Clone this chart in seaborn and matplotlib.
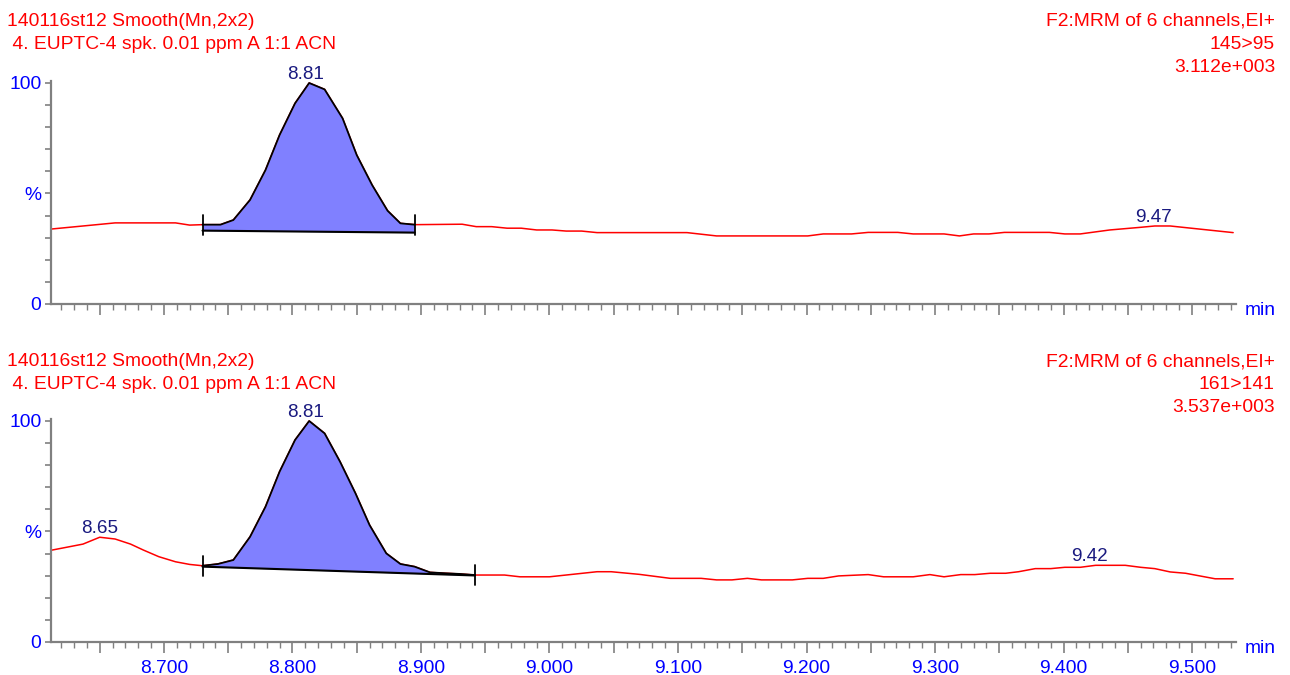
import numpy as np
import pandas as pd
import matplotlib
matplotlib.use("Agg")
import matplotlib.pyplot as plt
import seaborn as sns

# ---------------- data ----------------
# Panel 1: 145>95
t1 = [8.612, 8.662, 8.709, 8.720, 8.730, 8.744, 8.754, 8.767, 8.779, 8.790,
      8.802, 8.813, 8.825, 8.839, 8.850, 8.862, 8.874, 8.884, 8.895, 8.932,
      8.943, 8.955, 8.967, 8.978, 8.990, 9.002, 9.013, 9.025, 9.037, 9.107,
      9.130, 9.201, 9.213, 9.235, 9.248, 9.271, 9.283, 9.307, 9.319, 9.330,
      9.342, 9.354, 9.389, 9.401, 9.413, 9.436, 9.460, 9.471, 9.483, 9.496,
      9.532]
v1 = [33.9, 36.7, 36.7, 35.7, 35.9, 35.9, 38.0, 47.1, 60.6, 76.5,
      90.8, 100.0, 97.1, 84.0, 67.4, 53.8, 42.2, 36.5, 35.9, 36.1,
      35.0, 35.0, 34.3, 34.3, 33.5, 33.5, 33.0, 33.0, 32.3, 32.3,
      30.8, 30.8, 31.7, 31.7, 32.4, 32.4, 31.7, 31.7, 30.8, 31.7,
      31.7, 32.4, 32.4, 31.7, 31.7, 33.5, 34.7, 35.3, 35.3, 34.5,
      32.3]
int1_t = [8.730, 8.895]          # integration start / end
int1_base = [33.2, 32.3]         # baseline values at start / end
labels1 = ["8.81", "9.47"]
labels1_t = [8.81, 9.47]
labels1_y = [100.0, 35.3]

# Panel 2: 161>141
t2 = [8.613, 8.637, 8.650, 8.662, 8.674, 8.684, 8.696, 8.709, 8.720, 8.730,
      8.742, 8.754, 8.767, 8.779, 8.790, 8.802, 8.813, 8.825, 8.837, 8.849,
      8.860, 8.873, 8.884, 8.895, 8.907, 8.919, 8.930, 8.942, 8.965, 8.977,
      9.000, 9.037, 9.048, 9.070, 9.094, 9.118, 9.130, 9.142, 9.154, 9.165,
      9.189, 9.201, 9.213, 9.225, 9.248, 9.260, 9.283, 9.296, 9.307, 9.320,
      9.331, 9.343, 9.355, 9.365, 9.378, 9.390, 9.401, 9.413, 9.425, 9.448,
      9.460, 9.471, 9.483, 9.495, 9.506, 9.518, 9.532]
v2 = [41.6, 44.3, 47.4, 46.6, 44.3, 41.6, 38.6, 36.3, 35.1, 34.5,
      35.3, 37.1, 47.6, 61.2, 77.1, 91.4, 100.0, 94.4, 81.6, 67.3,
      52.9, 40.1, 35.3, 34.1, 31.5, 31.1, 30.8, 30.3, 30.3, 29.5,
      29.5, 31.8, 31.8, 30.6, 28.8, 28.8, 28.1, 28.1, 28.8, 28.1,
      28.1, 28.8, 28.8, 29.9, 30.5, 29.5, 29.5, 30.5, 29.5, 30.5,
      30.5, 31.1, 31.1, 31.8, 33.2, 33.2, 33.8, 33.8, 34.7, 34.7,
      33.8, 33.2, 31.7, 31.1, 29.9, 28.6, 28.6]
int2_t = [8.730, 8.942]
int2_base = [34.1, 30.1]
labels2 = ["8.81", "8.65", "9.42"]
labels2_t = [8.81, 8.65, 9.42]
labels2_y = [100.0, 47.4, 34.7]

header_left = ["140116st12 Smooth(Mn,2x2)", " 4. EUPTC-4 spk. 0.01 ppm A 1:1 ACN"]
header_right1 = ["F2:MRM of 6 channels,EI+", "145>95", "3.112e+003"]
header_right2 = ["F2:MRM of 6 channels,EI+", "161>141", "3.537e+003"]

xticks = [8.700, 8.800, 8.900, 9.000, 9.100, 9.200, 9.300, 9.400, 9.500]
xticklabels = ["8.700", "8.800", "8.900", "9.000", "9.100", "9.200", "9.300", "9.400", "9.500"]

# ---------------- styling ----------------
sns.set_style("white")
plt.rcParams["font.family"] = ["Liberation Sans", "DejaVu Sans"]

W, H = 1290, 675
fig = plt.figure(figsize=(W / 100, H / 100), dpi=100)

RED = "#ff0000"
BLUE = "#0000ff"
NAVY = "#1a1a80"
FILL = "#8080ff"
GRAY = "#808080"
FS = 13.9

XMIN, XMAX = 8.6121, 9.5342
left = 51 / W
width = (1236 - 51) / W


def make_panel(rect, t, v, it, ib, labs, labt, laby, show_xlabels):
    ax = fig.add_axes(rect)
    df = pd.DataFrame({"t": t, "v": v})
    sns.lineplot(data=df, x="t", y="v", ax=ax, color=RED, linewidth=1.1,
                 estimator=None, sort=False)
    ta = np.array(t)
    va = np.array(v)
    mask = (ta >= it[0] - 1e-9) & (ta <= it[1] + 1e-9)
    pt = ta[mask]
    pv = va[mask]
    base = np.interp(pt, it, ib)
    ax.fill_between(pt, base, pv, color=FILL, linewidth=0, zorder=3)
    ax.plot(pt, pv, color="black", linewidth=1.3, zorder=4)
    ax.plot(it, ib, color="black", linewidth=1.5, zorder=4)
    for tt in it:
        yv = np.interp(tt, ta, va)
        ax.plot([tt, tt], [yv - 4.5, yv + 4.5], color="black", linewidth=1.3, zorder=5)
    for lab, lt, ly in zip(labs, labt, laby):
        ax.text(lt, ly + 2.0, lab, ha="center", va="baseline", color=NAVY,
                fontsize=13.6, clip_on=False)

    ax.set_xlim(XMIN, XMAX)
    ax.set_ylim(0, 100.9)
    for s in ["top", "right"]:
        ax.spines[s].set_visible(False)
    for s in ["left", "bottom"]:
        ax.spines[s].set_color(GRAY)
        ax.spines[s].set_linewidth(1.6)
    ax.set_xlabel("")
    ax.set_ylabel("")
    ax.set_yticks(np.arange(0, 101, 10))
    ylabs = [""] * 11
    ylabs[0] = "0"
    ylabs[5] = "%"
    ylabs[10] = "100"
    ax.set_yticklabels(ylabs)
    ax.tick_params(axis="y", direction="out", length=4, width=1.2, color=GRAY,
                   labelcolor=BLUE, labelsize=FS, pad=3, left=True)
    ax.set_xticks(np.round(np.arange(8.65, 9.531, 0.05), 3))
    ax.set_xticks(np.round(np.arange(8.62, 9.531, 0.01), 3), minor=True)
    if show_xlabels:
        ax.set_xticks(xticks + [8.65, 8.75, 8.85, 8.95, 9.05, 9.15, 9.25, 9.35, 9.45])
        ax.set_xticklabels(xticklabels + [""] * 9)
    else:
        ax.set_xticklabels([""] * len(ax.get_xticks()))
    ax.tick_params(axis="x", which="major", direction="out", length=8, width=1.2,
                   color=GRAY, labelcolor=BLUE, labelsize=FS, pad=5, bottom=True)
    ax.tick_params(axis="x", which="minor", direction="out", length=4.5, width=1.0,
                   color=GRAY, bottom=True)
    ax.grid(False)
    return ax


ax1 = make_panel([left, 1 - 304 / H, width, (304 - 81) / H],
                 t1, v1, int1_t, int1_base, labels1, labels1_t, labels1_y, False)
ax2 = make_panel([left, 1 - 642 / H, width, (642 - 419) / H],
                 t2, v2, int2_t, int2_base, labels2, labels2_t, labels2_y, True)

# headers
for base_y, right_lines in [(26, header_right1), (366, header_right2)]:
    for i, line in enumerate(header_left):
        fig.text(7 / W, 1 - (base_y + 23 * i) / H, line, ha="left", va="baseline",
                 color=RED, fontsize=FS)
    for i, line in enumerate(right_lines):
        fig.text(1275 / W, 1 - (base_y + 23 * i) / H, line, ha="right", va="baseline",
                 color=RED, fontsize=FS)

fig.text(1245 / W, 1 - 315 / H, "min", ha="left", va="baseline", color=BLUE, fontsize=FS)
fig.text(1245 / W, 1 - 653 / H, "min", ha="left", va="baseline", color=BLUE, fontsize=FS)

fig.savefig("out.png", dpi=100)
